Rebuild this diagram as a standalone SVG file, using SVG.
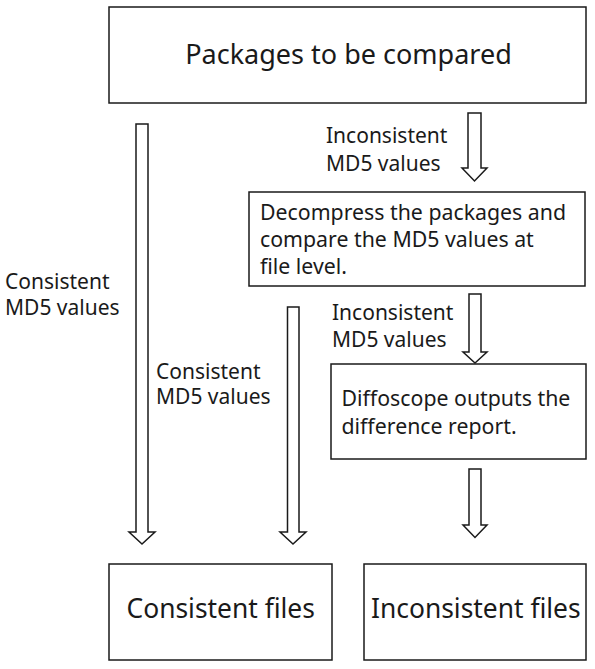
<svg xmlns="http://www.w3.org/2000/svg" width="595" height="669" viewBox="0 0 595 669">
<style>
.box{fill:#fff;stroke:#1a1a1a;stroke-width:1.5}
.arr{fill:#fff;stroke:#1a1a1a;stroke-width:1.5;stroke-linejoin:miter}
text{font-family:"Noto Sans","Open Sans","DejaVu Sans",sans-serif;fill:#1a1a1a}
.big{font-size:26.4px}
.top{font-size:27px}
.mid{font-size:21px}
.boxt{font-size:21.3px}
</style>
<rect width="595" height="669" fill="#fff"/>
<g id="connectors">
<polygon class="arr" points="136,124 148,124 148,532 155,532 142,544 129,532 136,532"/>
<polygon class="arr" points="468,113 481,113 481,168 487,168 474.5,181 462,168 468,168"/>
<polygon class="arr" points="469,294 481,294 481,352 487,352 475,363 463,352 469,352"/>
<polygon class="arr" points="287.5,307 299,307 299,532 306,532 293,544 280,532 287.5,532"/>
<polygon class="arr" points="469,469 481,469 481,525 487,525 475,537.5 463,525 469,525"/>
<text class="mid" x="326" y="143">Inconsistent</text>
<text class="mid" x="326" y="171">MD5 values</text>
<text class="mid" x="332" y="319.5">Inconsistent</text>
<text class="mid" x="332" y="347">MD5 values</text>
<text class="mid" x="5" y="289">Consistent</text>
<text class="mid" x="5" y="315">MD5 values</text>
<text class="mid" x="156" y="378.5">Consistent</text>
<text class="mid" x="156" y="404">MD5 values</text>
</g>
<g id="packages">
<rect class="box" x="109" y="7" width="477" height="96"/>
<text class="top" x="348.5" y="64" text-anchor="middle">Packages to be compared</text>
</g>
<g id="decompress">
<rect class="box" x="249" y="192" width="336" height="94"/>
<text class="boxt" x="260" y="219.5">Decompress the packages and</text>
<text class="boxt" x="260" y="247">compare the MD5 values at</text>
<text class="boxt" x="260" y="274">file level.</text>
</g>
<g id="diffoscope">
<rect class="box" x="331" y="364" width="255" height="95"/>
<text class="boxt" x="341.5" y="406">Diffoscope outputs the</text>
<text class="boxt" x="341.5" y="433.5">difference report.</text>
</g>
<g id="consistent">
<rect class="box" x="109" y="564" width="223" height="96"/>
<text class="big" x="126.5" y="617.5">Consistent files</text>
</g>
<g id="inconsistent">
<rect class="box" x="364" y="564" width="222" height="96"/>
<text class="big" x="371" y="617.5">Inconsistent files</text>
</g>
</svg>
